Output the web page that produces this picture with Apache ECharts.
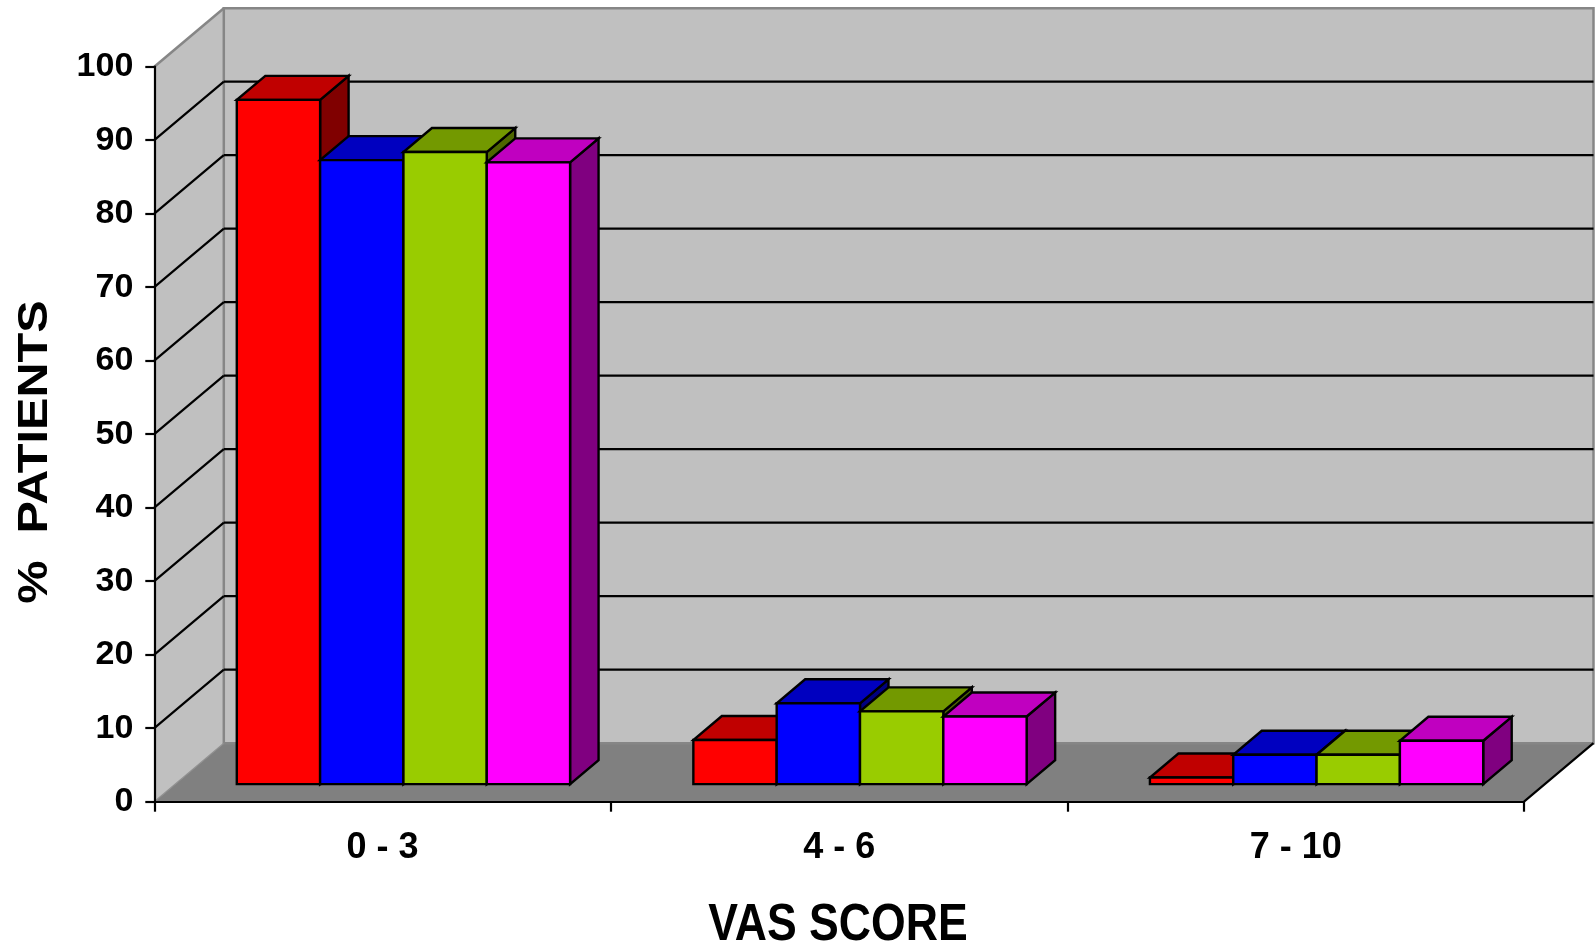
<!DOCTYPE html>
<html>
<head>
<meta charset="utf-8">
<title>% Patients by VAS score</title>
<script src="https://cdn.jsdelivr.net/npm/echarts@6/dist/echarts.min.js"></script>
<style>
  html, body { margin: 0; padding: 0; background: #ffffff; }
  #chart { width: 1595px; height: 947px; }
</style>
</head>
<body>
<div id="chart"></div>
<script>
// ---- data ----
const categories = ['0 - 3', '4 - 6', '7 - 10'];
const groupRed = [93.1, 6.0, 0.9];
const groupBlue = [84.9, 11.0, 4.0];
const groupGreen = [86.0, 9.9, 4.0];
const groupMagenta = [84.6, 9.2, 5.9];
const yTicks = [0, 10, 20, 30, 40, 50, 60, 70, 80, 90, 100];
const xTitle = 'VAS SCORE';
const yTitle = '%  PATIENTS';

// ---- 3D look ----
const DX = 69.5;          // depth offset of the back wall, px right
const DY = 58.5;          // depth offset of the back wall, px up
const D0 = 0.30;          // bars start this far into the depth
const D1 = 0.71;          // bars end this far into the depth
const BAR_FRAC = 0.1825;  // bar width as a share of one category band

const palettes = [
  { name: 'Group 1', data: groupRed,     front: '#ff0000', top: '#c00000', side: '#800000' },
  { name: 'Group 2', data: groupBlue,    front: '#0000ff', top: '#0000c0', side: '#000080' },
  { name: 'Group 3', data: groupGreen,   front: '#99cc00', top: '#739900', side: '#4d6600' },
  { name: 'Group 4', data: groupMagenta, front: '#ff00ff', top: '#c000c0', side: '#800080' }
];

function renderWalls(params, api) {
  const cs = params.coordSys;
  const x0 = cs.x, x1 = cs.x + cs.width;
  const yT = cs.y, yB = cs.y + cs.height;
  const kids = [];
  // floor
  kids.push({ type: 'polygon', shape: { points: [[x0, yB], [x1, yB], [x1 + DX, yB - DY], [x0 + DX, yB - DY]] },
              style: { fill: '#808080' } });
  // left side wall
  kids.push({ type: 'polygon', shape: { points: [[x0, yT], [x0 + DX, yT - DY], [x0 + DX, yB - DY], [x0, yB]] },
              style: { fill: '#c0c0c0' } });
  // back wall
  kids.push({ type: 'rect', shape: { x: x0 + DX, y: yT - DY, width: cs.width, height: cs.height },
              style: { fill: '#c0c0c0', stroke: '#868686', lineWidth: 2.5 } });
  // gridlines on back wall and side wall
  yTicks.forEach(function (v, i) {
    if (i === 0 || i === yTicks.length - 1) return;
    const yy = api.coord([0, v])[1];
    kids.push({ type: 'line', shape: { x1: x0 + DX, y1: yy - DY, x2: x1 + DX, y2: yy - DY },
                style: { stroke: '#000000', lineWidth: 2.2 } });
    kids.push({ type: 'line', shape: { x1: x0, y1: yy, x2: x0 + DX, y2: yy - DY },
                style: { stroke: '#000000', lineWidth: 2.2 } });
  });
  // wall edges
  kids.push({ type: 'line', shape: { x1: x0, y1: yT, x2: x0 + DX, y2: yT - DY },
              style: { stroke: '#868686', lineWidth: 2.5 } });
  kids.push({ type: 'line', shape: { x1: x0, y1: yB, x2: x0 + DX, y2: yB - DY },
              style: { stroke: '#909090', lineWidth: 1.2 } });
  kids.push({ type: 'line', shape: { x1: x1, y1: yB, x2: x1 + DX, y2: yB - DY },
              style: { stroke: '#000000', lineWidth: 2.2 } });
  return { type: 'group', children: kids };
}

function makeBarRenderer(slot, pal) {
  return function (params, api) {
    const cat = api.value(0);
    const v = api.value(1);
    const band = api.size([1, 0])[0];
    const base = api.coord([cat, 0]);
    const peak = api.coord([cat, v]);
    const bw = band * BAR_FRAC;
    const left = base[0] - 2 * bw + slot * bw + D0 * DX;
    const bottom = base[1] - D0 * DY;
    const topY = peak[1] - D0 * DY;
    const ddx = (D1 - D0) * DX, ddy = (D1 - D0) * DY;
    const line = { stroke: '#000000', lineWidth: 2.4, lineJoin: 'miter' };
    return {
      type: 'group',
      children: [
        { type: 'polygon',
          shape: { points: [[left + bw, topY], [left + bw + ddx, topY - ddy], [left + bw + ddx, bottom - ddy], [left + bw, bottom]] },
          style: Object.assign({ fill: pal.side }, line) },
        { type: 'polygon',
          shape: { points: [[left, topY], [left + bw, topY], [left + bw + ddx, topY - ddy], [left + ddx, topY - ddy]] },
          style: Object.assign({ fill: pal.top }, line) },
        { type: 'rect',
          shape: { x: left, y: topY, width: bw, height: bottom - topY },
          style: Object.assign({ fill: pal.front }, line) }
      ]
    };
  };
}

const chart = echarts.init(document.getElementById('chart'), null, { renderer: 'canvas' });

const series = [{
  type: 'custom',
  name: 'walls',
  silent: true,
  clip: false,
  z: 1,
  renderItem: renderWalls,
  data: [[0, 0]]
}];
palettes.forEach(function (pal, slot) {
  series.push({
    type: 'custom',
    name: pal.name,
    clip: false,
    z: 2,
    renderItem: makeBarRenderer(slot, pal),
    data: pal.data.map(function (v, i) { return [i, v]; })
  });
});

const FONT = '"Liberation Sans", Arial, Helvetica, sans-serif';

chart.setOption({
  animation: false,
  backgroundColor: '#ffffff',
  grid: { left: 154.3, right: 71, top: 66.7, bottom: 145.3, containLabel: false },
  xAxis: {
    type: 'category',
    data: categories,
    z: 5,
    axisLine: { lineStyle: { color: '#000000', width: 2.2 } },
    axisTick: { show: true, length: 10, lineStyle: { color: '#000000', width: 2.2 } },
    axisLabel: { margin: 28, color: '#000000', fontSize: 36, fontWeight: 'bold', fontFamily: FONT },
    splitLine: { show: false }
  },
  yAxis: {
    type: 'value',
    min: yTicks[0],
    max: yTicks[yTicks.length - 1],
    interval: yTicks[1] - yTicks[0],
    z: 5,
    axisLine: { show: true, lineStyle: { color: '#000000', width: 2.2 } },
    axisTick: { show: true, length: 9, lineStyle: { color: '#000000', width: 2.2 } },
    axisLabel: { margin: 21, color: '#000000', fontSize: 34, fontWeight: 'bold', fontFamily: FONT },
    splitLine: { show: false }
  },
  graphic: [
    { type: 'text', x: 838, y: 926, scaleY: 1.15, silent: true,
      style: { text: xTitle, x: 0, y: 0, align: 'center', verticalAlign: 'middle',
               fill: '#000000', font: 'bold 44.6px ' + FONT } },
    { type: 'text', x: 35.5, y: 452, rotation: Math.PI / 2, scaleX: 1.16, silent: true,
      style: { text: yTitle, x: 0, y: 0, align: 'center', verticalAlign: 'middle',
               fill: '#000000', font: 'bold 41.9px ' + FONT } }
  ],
  series: series
});
</script>
</body>
</html>
